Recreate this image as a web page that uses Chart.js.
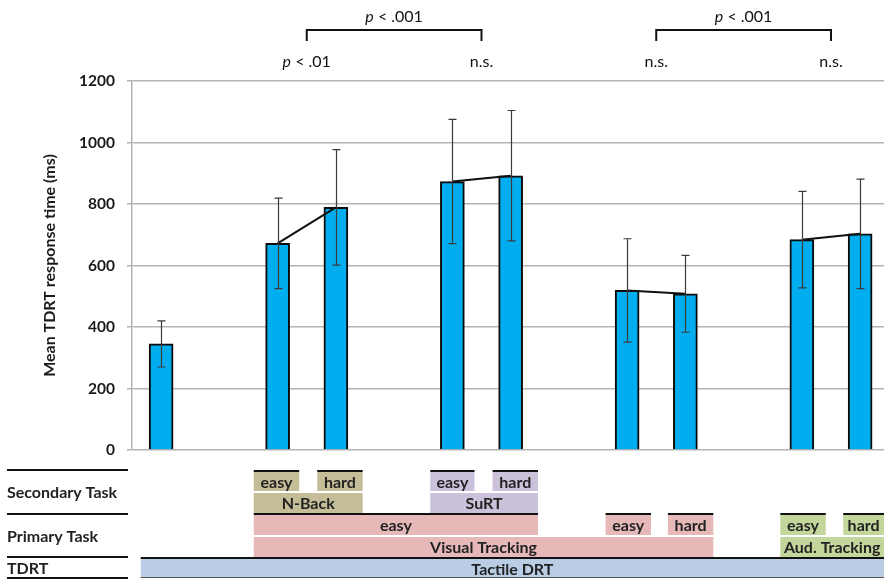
<!DOCTYPE html>
<html>
<head>
<meta charset="utf-8">
<script src="https://cdn.jsdelivr.net/npm/chart.js@4.4.1/dist/chart.umd.min.js"></script>
<style>
  html, body { margin: 0; padding: 0; background: #fff; overflow: hidden; }
</style>
</head>
<body>
<canvas id="rtChart" width="884" height="579"></canvas>
<script>
// slots along the x axis, '' = empty slot between groups
var conditions = ['TDRT', '', 'N-Back easy', 'N-Back hard', '', 'SuRT easy', 'SuRT hard', '', 'VT easy', 'VT hard', '', 'AT easy', 'AT hard'];
var meanRT = [345, null, 672, 789, null, 873, 892, null, 519, 508, null, 684, 703];
var sdRT = [75, null, 147, 188, null, 202, 212, null, 168, 125, null, 157, 178];
var yTicks = [0, 200, 400, 600, 800, 1000, 1200];
// easy/hard pairs start at these slots
var pairStart = [2, 5, 8, 11];
var pairTests = ['p < .01', 'n.s.', 'n.s.', 'n.s.'];
var groupTests = ['p < .001', 'p < .001'];

Chart.defaults.font.family = 'Lato';
Chart.defaults.color = '#1a1a1a';

var barPoints = [];
var linePoints = [];
conditions.forEach(function (c, i) {
  if (meanRT[i] != null) barPoints.push({ x: i, y: meanRT[i] });
  linePoints.push({ x: i, y: meanRT[i] });
});

function drawStat(ctx, text, cx, cy) {
  ctx.textBaseline = 'middle';
  ctx.textAlign = 'left';
  if (text.indexOf('p ') === 0) {
    var rest = text.slice(1);
    ctx.font = 'italic 16px Lato';
    var w1 = ctx.measureText('p').width;
    ctx.font = '16px Lato';
    var w2 = ctx.measureText(rest).width;
    var x0 = cx - (w1 + w2) / 2;
    ctx.font = 'italic 16px Lato';
    ctx.fillText('p', x0, cy);
    ctx.font = '16px Lato';
    ctx.fillText(rest, x0 + w1, cy);
  } else {
    ctx.font = '16px Lato';
    ctx.textAlign = 'center';
    ctx.fillText(text, cx, cy);
  }
}

var errorBars = {
  id: 'errorBars',
  afterDatasetsDraw: function (chart) {
    var ctx = chart.ctx, x = chart.scales.x, y = chart.scales.y;
    ctx.save();
    ctx.strokeStyle = '#3a3a3a';
    ctx.lineWidth = 1.2;
    meanRT.forEach(function (v, i) {
      if (v == null) return;
      var px = Math.round(x.getPixelForValue(i)) + 0.5;
      var top = y.getPixelForValue(v + sdRT[i]);
      var bot = y.getPixelForValue(v - sdRT[i]);
      ctx.beginPath();
      ctx.moveTo(px, top); ctx.lineTo(px, bot);
      ctx.moveTo(px - 4, top); ctx.lineTo(px + 4, top);
      ctx.moveTo(px - 4, bot); ctx.lineTo(px + 4, bot);
      ctx.stroke();
    });
    ctx.restore();
  }
};

var annotations = {
  id: 'annotations',
  afterDraw: function (chart) {
    var ctx = chart.ctx, x = chart.scales.x;
    ctx.save();
    ctx.fillStyle = '#111';
    // tests within pairs
    pairStart.forEach(function (s, k) {
      drawStat(ctx, pairTests[k], x.getPixelForValue(s + 0.5), 62);
    });
    // brackets between pairs
    groupTests.forEach(function (t, k) {
      var a = x.getPixelForValue(pairStart[k * 2] + 0.5);
      var b = x.getPixelForValue(pairStart[k * 2 + 1] + 0.5);
      ctx.strokeStyle = '#111';
      ctx.lineWidth = 2;
      ctx.beginPath();
      ctx.moveTo(a, 41); ctx.lineTo(a, 30); ctx.lineTo(b, 30); ctx.lineTo(b, 41);
      ctx.stroke();
      drawStat(ctx, t, (a + b) / 2, 17);
    });

    // condition table under the plot
    function box(i0, i1, top, h, fill, label, line) {
      var x0 = Math.max(x.getPixelForValue(i0), 0);
      var x1 = Math.min(x.getPixelForValue(i1), chart.width);
      ctx.fillStyle = fill;
      ctx.fillRect(x0, top, x1 - x0, h);
      if (line) {
        ctx.fillStyle = '#111';
        ctx.fillRect(x0, top - 2, x1 - x0, 2);
      }
      ctx.fillStyle = '#222';
      ctx.font = 'bold 16px Lato';
      ctx.textAlign = 'center';
      ctx.textBaseline = 'middle';
      ctx.fillText(label, (x0 + x1) / 2, top + h / 2 + 1);
    }
    var tan = '#c4bd97', lav = '#ccc1da', pink = '#e6b9b8', green = '#c3d69b', blue = '#b9cde5';
    // secondary task
    box(1.59, 2.37, 472, 19, tan, 'easy', true);
    box(2.68, 3.46, 472, 19, tan, 'hard', true);
    box(1.59, 3.46, 493, 20, tan, 'N-Back', false);
    box(4.62, 5.38, 472, 19, lav, 'easy', true);
    box(5.69, 6.47, 472, 19, lav, 'hard', true);
    box(4.62, 6.47, 493, 20, lav, 'SuRT', false);
    // primary task
    box(1.59, 6.47, 515, 20, pink, 'easy', true);
    box(7.63, 8.41, 515, 20, pink, 'easy', true);
    box(8.70, 9.48, 515, 20, pink, 'hard', true);
    box(1.59, 9.48, 537, 20, pink, 'Visual Tracking', false);
    box(10.63, 11.41, 515, 20, green, 'easy', true);
    box(11.71, 12.49, 515, 20, green, 'hard', true);
    box(10.63, 12.49, 537, 20, green, 'Aud. Tracking', false);
    // TDRT
    box(-0.35, 12.49, 559, 19, blue, 'Tactile DRT', true);
    ctx.fillStyle = '#555';
    ctx.fillRect(x.getPixelForValue(-0.35), 577, chart.width, 1);

    // row labels on the left
    ctx.fillStyle = '#111';
    [470, 514, 557, 578].forEach(function (ly) {
      ctx.fillRect(7, ly - 1, 121, 2);
    });
    ctx.fillStyle = '#222';
    ctx.font = 'bold 16px Lato';
    ctx.textAlign = 'left';
    ctx.textBaseline = 'middle';
    ctx.fillText('Secondary Task', 7, 493);
    ctx.fillText('Primary Task', 7, 537);
    ctx.fillText('TDRT', 7, 569);
    ctx.restore();
  }
};

new Chart(document.getElementById('rtChart'), {
  type: 'bar',
  data: {
    datasets: [
      {
        type: 'line',
        data: linePoints,
        borderColor: '#111',
        borderWidth: 2,
        pointRadius: 0,
        spanGaps: false,
        order: 0
      },
      {
        type: 'bar',
        data: barPoints,
        backgroundColor: '#00aeef',
        borderColor: '#0a0a0a',
        borderWidth: 2,
        barThickness: 24,
        order: 1
      }
    ]
  },
  options: {
    responsive: false,
    animation: false,
    layout: { padding: { top: 81, bottom: 129, left: 0, right: 0 } },
    plugins: { legend: { display: false }, tooltip: { enabled: false } },
    scales: {
      x: {
        type: 'linear',
        min: -0.5,
        max: 12.41,
        display: false,
        offset: false
      },
      y: {
        min: 0,
        max: 1200,
        afterBuildTicks: function (scale) {
          scale.ticks = yTicks.map(function (v) { return { value: v }; });
        },
        afterFit: function (scale) { scale.width = 132; },
        grid: { color: '#b4b4b4', lineWidth: 1.5, tickLength: 5 },
        border: { color: '#b4b4b4', width: 1.5 },
        ticks: {
          padding: 12,
          color: '#1a1a1a',
          font: { size: 15.5, weight: 'bold' },
          callback: function (v) { return String(v); }
        },
        title: {
          display: true,
          text: 'Mean TDRT response time (ms)',
          color: '#1a1a1a',
          font: { size: 16, weight: 'bold' },
          padding: { top: 40, bottom: 0 }
        }
      }
    }
  },
  plugins: [errorBars, annotations]
});
</script>
</body>
</html>
